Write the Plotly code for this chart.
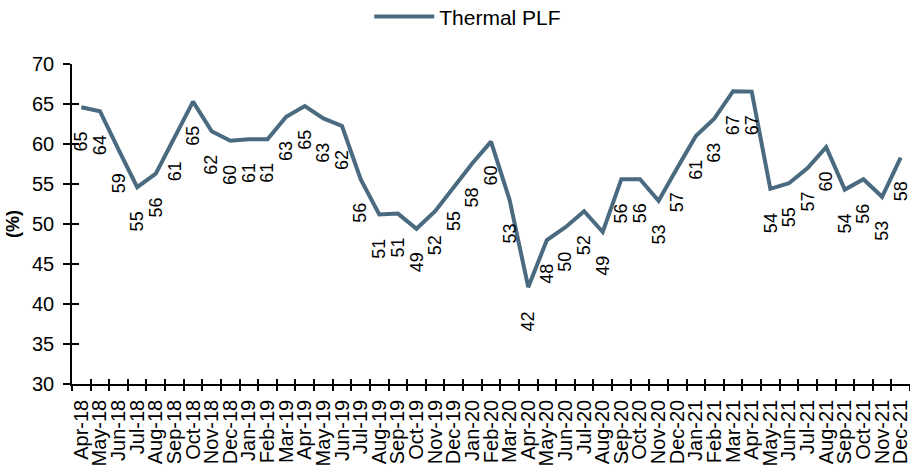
import plotly.graph_objects as go

months = ["Apr-18", "May-18", "Jun-18", "Jul-18", "Aug-18", "Sep-18", "Oct-18", "Nov-18", "Dec-18",
          "Jan-19", "Feb-19", "Mar-19", "Apr-19", "May-19", "Jun-19", "Jul-19", "Aug-19", "Sep-19",
          "Oct-19", "Nov-19", "Dec-19", "Jan-20", "Feb-20", "Mar-20", "Apr-20", "May-20", "Jun-20",
          "Jul-20", "Aug-20", "Sep-20", "Oct-20", "Nov-20", "Dec-20", "Jan-21", "Feb-21", "Mar-21",
          "Apr-21", "May-21", "Jun-21", "Jul-21", "Aug-21", "Sep-21", "Oct-21", "Nov-21", "Dec-21"]

thermal_plf = [64.6, 64.1, 59.3, 54.6, 56.3, 60.9, 65.3, 61.6, 60.4,
               60.6, 60.6, 63.4, 64.75, 63.2, 62.25, 55.6, 51.2, 51.3,
               49.4, 51.6, 54.6, 57.6, 60.3, 53.0, 42.1, 48.0, 49.6,
               51.6, 49.0, 55.6, 55.6, 52.9, 57.0, 61.0, 63.2, 66.6,
               66.55, 54.4, 55.1, 57.0, 59.6, 54.3, 55.6, 53.4, 58.3]

y_ticks = [30, 35, 40, 45, 50, 55, 60, 65, 70]

LINE_COLOR = "#4a6a80"
FONT = "Liberation Sans, Arial, sans-serif"

fig = go.Figure()
fig.add_trace(go.Scatter(
    x=months, y=thermal_plf, mode="lines", name="Thermal PLF",
    line=dict(color=LINE_COLOR, width=4), hoverinfo="x+y"))
# invisible twin trace so the overlay axes (inside tick halves) are drawn
fig.add_trace(go.Scatter(
    x=months, y=thermal_plf, mode="lines", xaxis="x2", yaxis="y2",
    line=dict(color="rgba(0,0,0,0)", width=0), showlegend=False, hoverinfo="skip"))

for m, v in zip(months, thermal_plf):
    fig.add_annotation(x=m, y=v, text=f"{v:.0f}", textangle=-90, showarrow=False,
                       xanchor="center", yanchor="top", yshift=-23, borderpad=0,
                       font=dict(family=FONT, size=18, color="black"))

fig.update_layout(
    width=910, height=467,
    margin=dict(l=72, r=0, t=64, b=83, autoexpand=False),
    paper_bgcolor="white", plot_bgcolor="white",
    font=dict(family=FONT, color="black"),
    showlegend=True,
    legend=dict(orientation="h", xref="container", yref="container",
                x=0.514, y=0.964, xanchor="center", yanchor="middle", itemwidth=60,
                font=dict(family=FONT, size=21, color="black"), bgcolor="rgba(0,0,0,0)"),
    xaxis=dict(type="category", tickson="boundaries", ticks="outside", ticklen=5,
               tickwidth=1.5, tickcolor="black", showline=True, linecolor="black", linewidth=1.5,
               tickangle=-90, tickfont=dict(family=FONT, size=20, color="black"), ticklabelstandoff=6,
               tickmode="array", tickvals=months, ticktext=months, automargin=False,
               showgrid=False, zeroline=False, range=[-0.5, 44.5]),
    xaxis2=dict(type="category", overlaying="x", matches="x", tickson="boundaries", ticks="inside",
                ticklen=5, tickwidth=1.5, tickcolor="black", showticklabels=False, automargin=False,
                showline=False, showgrid=False, zeroline=False, side="bottom",
                tickmode="array", tickvals=months),
    yaxis=dict(range=[30, 70], tickvals=y_ticks, ticks="outside", ticklen=7, tickwidth=1.5,
               tickcolor="black", showline=True, linecolor="black", linewidth=1.5,
               tickfont=dict(family=FONT, size=20, color="black"), ticklabelstandoff=5,
               showgrid=False, zeroline=False, automargin=False,
               title=dict(text="<b>(%)</b>", font=dict(family=FONT, size=18, color="black"), standoff=8)),
    yaxis2=dict(range=[30, 70], overlaying="y", matches="y", tickvals=y_ticks, ticks="inside",
                ticklen=7, tickwidth=1.5, tickcolor="black", showticklabels=False, automargin=False,
                showline=False, showgrid=False, zeroline=False, side="left"),
)

fig.write_html("out.html", config={"displayModeBar": False},
               post_script="document.body.style.margin='0';document.body.style.overflow='hidden';")
